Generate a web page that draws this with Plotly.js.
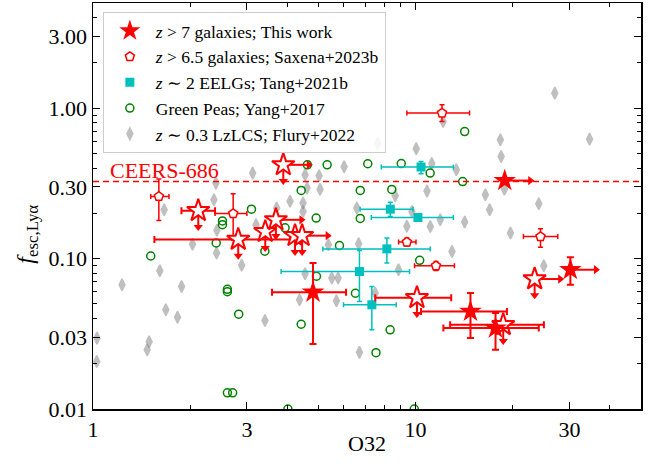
<!DOCTYPE html>
<html><head><meta charset="utf-8">
<script src="https://cdn.plot.ly/plotly-3.0.1.min.js"></script>
<style>html,body{margin:0;padding:0;background:#fff}#chart{width:659px;height:470px}</style>
</head><body><div id="chart"></div>
<script>
// ---------------- data ----------------
// z > 7 galaxies, This work: detections (filled stars)
const twX    = [4.81, 14.8, 17.7, 18.9, 30.2];
const twY    = [0.0597, 0.0445, 0.0345, 0.33, 0.0843];
const twXlo  = [3.59, 10.4, 12.2, null, null];
const twXhi  = [6.09, 19.2, 24.1, null, null];
const twYlo  = [0.0270, 0.0297, 0.0248, null, 0.067];
const twYhi  = [0.0933, 0.059, 0.0435, null, 0.102];
const twXlim = [false, false, false, true, true];
// z > 7 galaxies, This work: upper limits (open stars)
const ulX    = [3.89, 2.12, 2.82, 3.42, 3.69, 4.23, 4.45, 10.1, 18.7, 23.4];
const ulY    = [0.420, 0.208, 0.134, 0.151, 0.181, 0.142, 0.142, 0.0549, 0.0363, 0.0731];
const ulXlo  = [null, 1.88, 1.55, null, null, null, null, 7.50, 12.8, null];
const ulXhi  = [null, 2.39, 4.08, null, null, null, null, 12.9, 25.0, null];
const ulXlim = [true, false, false, false, true, false, true, false, false, true];
// z > 6.5 galaxies, Saxena+2023b
const sxX   = [1.60, 2.72, 12.08, 9.40, 11.57, 24.4];
const sxY   = [0.259, 0.199, 0.927, 0.1287, 0.0895, 0.140];
const sxXlo = [1.51, 2.39, 9.40, 8.86, 9.93, 21.6];
const sxXhi = [1.72, 3.00, 14.7, 10.03, 13.2, 27.6];
const sxYlo = [0.179, 0.133, 0.815, 0.121, 0.0834, 0.119];
const sxYhi = [0.338, 0.270, 1.052, 0.137, 0.0956, 0.158];
// z ~ 2 EELGs, Tang+2021b
const tgX   = [10.4, 8.35, 10.17, 8.15, 6.70, 7.32];
const tgY   = [0.406, 0.213, 0.1875, 0.116, 0.082, 0.0493];
const tgXlo = [7.83, 6.73, 7.29, 5.16, 3.83, 5.98];
const tgXhi = [13.1, 9.82, 13.1, 11.1, 9.58, 8.71];
const tgYlo = [0.366, 0.1905, 0.178, 0.0933, 0.0519, 0.0336];
const tgYhi = [0.442, 0.237, 0.198, 0.137, 0.113, 0.0653];
// Green Peas, Yang+2017
const gpX = [1.51, 2.52, 2.52, 2.41, 2.61, 2.61, 2.83, 2.61, 2.71, 3.10, 3.41, 3.94, 4.42, 4.62, 5.32, 4.92, 5.81, 6.74, 6.74, 7.11, 9.03, 11.1, 8.44, 14.2, 14.0, 10.3, 4.93, 6.51, 4.42, 8.34, 7.54, 4.02, 9.91];
const gpY = [0.104, 0.178, 0.168, 0.127, 0.0625, 0.0602, 0.0427, 0.0128, 0.0128, 0.213, 0.112, 0.160, 0.284, 0.420, 0.420, 0.186, 0.122, 0.284, 0.185, 0.427, 0.428, 0.370, 0.288, 0.699, 0.325, 0.0974, 0.0763, 0.0588, 0.0366, 0.0336, 0.0237, 0.0100, 0.0100];
// z ~ 0.3 LzLCS, Flury+2022
const lzX = [1.029, 1.027, 1.230, 1.493, 1.472, 1.611, 1.682, 1.828, 1.882, 1.662, 2.035, 2.416, 2.422, 2.371, 2.404, 2.890, 3.126, 3.201, 3.711, 4.082, 4.479, 4.479, 4.545, 5.023, 4.609, 5.058, 5.367, 6.006, 6.577, 6.663, 7.632, 10.05, 11.23, 12.17, 13.38, 10.85, 8.65, 9.745, 9.40, 11.11, 11.93, 14.20, 16.46, 18.86, 16.97, 18.32, 18.42, 24.1, 19.69, 27.02, 34.63, 24.98, 12.97, 8.855, 3.414, 4.545, 4.369, 5.500, 5.754, 5.684, 7.497, 6.701];
const lzY = [0.0296, 0.0207, 0.0670, 0.0280, 0.0248, 0.0830, 0.0457, 0.0407, 0.0653, 0.2110, 0.1245, 0.1088, 0.1542, 0.2459, 0.3174, 0.0902, 0.370, 0.1677, 0.2165, 0.2403, 0.2338, 0.2056, 0.3603, 0.3549, 0.2940, 0.2887, 0.1235, 0.4074, 0.2165, 0.1254, 0.5836, 0.5381, 0.4284, 0.8147, 0.389, 0.2808, 0.2614, 0.2056, 0.1639, 0.1634, 0.1810, 0.1748, 0.2654, 0.2896, 0.211, 0.6158, 0.4770, 0.2312, 0.1477, 1.258, 0.6223, 0.0896, 0.1115, 0.0842, 0.0388, 0.0793, 0.0532, 0.0742, 0.0742, 0.0524, 0.0590, 0.0238];
// CEERS-686 reference level
const ceersY = 0.325;
const ceersLabel = 'CEERS-686';
// axes
const xRange = [1, 50];
const yRange = [0.01, 5];
const xTickVals = [1, 3, 10, 30];
const xTickText = ['1', '3', '10', '30'];
const yTickVals = [0.01, 0.03, 0.1, 0.3, 1, 3];
const yTickText = ['0.01', '0.03', '0.10', '0.30', '1.00', '3.00'];
const xTitle = 'O32';
const yTitle = '<i>f</i><sub>esc,Lyα</sub>';
const legendNames = [
  '<i>z</i> &gt; 7 galaxies; This work',
  '<i>z</i> &gt; 6.5 galaxies; Saxena+2023b',
  '<i>z</i> ∼ 2 EELGs; Tang+2021b',
  'Green Peas; Yang+2017',
  '<i>z</i> ∼ 0.3 LzLCS; Flury+2022'
];

// ---------------- styles ----------------
const FONT = 'Liberation Serif, DejaVu Serif, serif';
const RED = '#ff0000', CYAN = '#00bfbf', GREEN = '#008000';
const DOWN = 0.78, RIGHT = 1.2;   // arrow lengths (multiplicative, log axes)

function errPlus(v, hi){ return hi.map((h,i)=> h==null ? NaN : h - v[i]); }
function errMinus(v, lo){ return lo.map((l,i)=> l==null ? NaN : v[i] - l); }
function errX(v, lo, hi, color, w, cap){
  return {type:'data', symmetric:false, array:errPlus(v,hi), arrayminus:errMinus(v,lo), color:color, thickness:w, width:cap};
}
function arrows(xs, ys, flags, dir){
  const lx=[], ly=[], mx=[], my=[];
  xs.forEach((x,i)=>{
    if(flags && !flags[i]) return;
    const y = ys[i];
    const ex = dir==='right' ? x*RIGHT : x;
    const ey = dir==='down' ? y*DOWN : y;
    lx.push(x, ex, null); ly.push(y, ey, null);
    mx.push(ex); my.push(ey);
  });
  return [
    {x:lx, y:ly, mode:'lines', line:{color:RED, width:2}, showlegend:false, hoverinfo:'skip'},
    {x:mx, y:my, mode:'markers', marker:{symbol: dir==='right'?'triangle-right':'triangle-down', size:8, color:RED}, showlegend:false, hoverinfo:'skip'}
  ];
}

const traces = [];
// LzLCS diamonds
traces.push({x:lzX, y:lzY, mode:'markers', showlegend:false,
  marker:{symbol:'diamond-tall', size:8.5, color:'gray', opacity:0.5, line:{color:'gray', width:1.5}}});
// Green peas
traces.push({x:gpX, y:gpY, mode:'markers', showlegend:false,
  marker:{symbol:'circle-open', size:8, color:GREEN, line:{color:GREEN, width:1.5}}});
// Tang EELGs
traces.push({x:tgX, y:tgY, mode:'markers', showlegend:false,
  error_x:errX(tgX, tgXlo, tgXhi, CYAN, 1.5, 2.5),
  error_y:errX(tgY, tgYlo, tgYhi, CYAN, 1.5, 2.5),
  marker:{symbol:'square', size:9, color:CYAN}});
// Saxena pentagons
traces.push({x:sxX, y:sxY, mode:'markers', showlegend:false,
  error_x:errX(sxX, sxXlo, sxXhi, RED, 1.5, 2.5),
  error_y:errX(sxY, sxYlo, sxYhi, RED, 1.5, 2.5),
  marker:{symbol:'pentagon', size:9.5, color:'white', line:{color:RED, width:1.5}}});
// CEERS-686 line
traces.push({x:xRange, y:[ceersY, ceersY], mode:'lines', showlegend:false, hoverinfo:'skip',
  line:{color:RED, width:1.5, dash:'6px,4px'}});
// arrows
traces.push(...arrows(ulX, ulY, null, 'down'));
traces.push(...arrows(ulX, ulY, ulXlim, 'right'));
traces.push(...arrows(twX, twY, twXlim, 'right'));
// open stars
traces.push({x:ulX, y:ulY, mode:'markers', showlegend:false,
  error_x:errX(ulX, ulXlo, ulXhi, RED, 2, 3.5),
  marker:{symbol:'star', size:17, color:'white', line:{color:RED, width:2}}});
// filled stars
traces.push({x:twX, y:twY, mode:'markers', showlegend:false,
  error_x:errX(twX, twXlo, twXhi, RED, 2, 3.5),
  error_y:errX(twY, twYlo, twYhi, RED, 2, 3.5),
  marker:{symbol:'star', size:17, color:RED}});

// legend proxies
const proxies = [
  {symbol:'star', size:18, color:RED},
  {symbol:'pentagon', size:9.5, color:'white', line:{color:RED, width:1.5}},
  {symbol:'square', size:9, color:CYAN},
  {symbol:'circle-open', size:8, color:GREEN, line:{color:GREEN, width:1.5}},
  {symbol:'diamond-tall', size:8.5, color:'rgb(192,192,192)', line:{color:'rgb(192,192,192)', width:1.5}}
];
proxies.forEach((m,i)=>{
  traces.push({x:[null], y:[null], mode:'markers', name:legendNames[i], marker:m, showlegend:true});
});

function minorVals(lo, hi){
  const out=[];
  for(let d=Math.floor(Math.log10(lo)); d<=Math.ceil(Math.log10(hi)); d++){
    for(let k=2;k<=9;k++){ const v=k*Math.pow(10,d); if(v>lo && v<hi) out.push(v); }
  }
  return out;
}
const axCommon = {type:'log', ticks:'inside', ticklen:7, tickwidth:1.2, tickcolor:'#000',
  mirror:'allticks', showline:true, linecolor:'#000', linewidth:1.5, showgrid:false, zeroline:false,
  tickfont:{family:FONT, size:22, color:'#000'}, automargin:false};

const layout = {
  width:659, height:470, paper_bgcolor:'#fff', plot_bgcolor:'#fff',
  margin:{l:93, r:18, t:3, b:61},
  font:{family:FONT, color:'#000'},
  xaxis:Object.assign({}, axCommon, {range:xRange.map(Math.log10), tickvals:xTickVals, ticktext:xTickText,
    minor:{tickvals:minorVals(xRange[0], xRange[1]), ticks:'inside', ticklen:4, tickwidth:1, tickcolor:'#000', showgrid:false}}),
  yaxis:Object.assign({}, axCommon, {range:yRange.map(Math.log10), tickvals:yTickVals, ticktext:yTickText,
    minor:{tickvals:minorVals(yRange[0], yRange[1]), ticks:'inside', ticklen:4, tickwidth:1, tickcolor:'#000', showgrid:false}}),
  showlegend:true,
  legend:{x:0.018, y:0.978, xanchor:'left', yanchor:'top', bgcolor:'rgba(255,255,255,0.85)',
    bordercolor:'#cccccc', borderwidth:1, font:{family:FONT, size:17.5, color:'#000'},
    itemwidth:42, itemsizing:'trace', traceorder:'normal'},
  annotations:[
    {text:ceersLabel, xref:'paper', x:0.027, xanchor:'left', yref:'y', y:Math.log10(ceersY), yanchor:'bottom',
     yshift:-3, showarrow:false, font:{family:FONT, size:22, color:RED}},
    {text:xTitle, xref:'paper', yref:'paper', x:0.5, y:-0.084, xanchor:'center', yanchor:'middle',
     showarrow:false, font:{family:FONT, size:22, color:'#000'}},
    {text:yTitle, xref:'paper', yref:'paper', x:-0.12, y:0.43, xanchor:'center', yanchor:'middle',
     textangle:-90, showarrow:false, font:{family:FONT, size:24, color:'#000'}}
  ]
};

Plotly.newPlot('chart', traces, layout, {staticPlot:true, displayModeBar:false});
</script></body></html>
